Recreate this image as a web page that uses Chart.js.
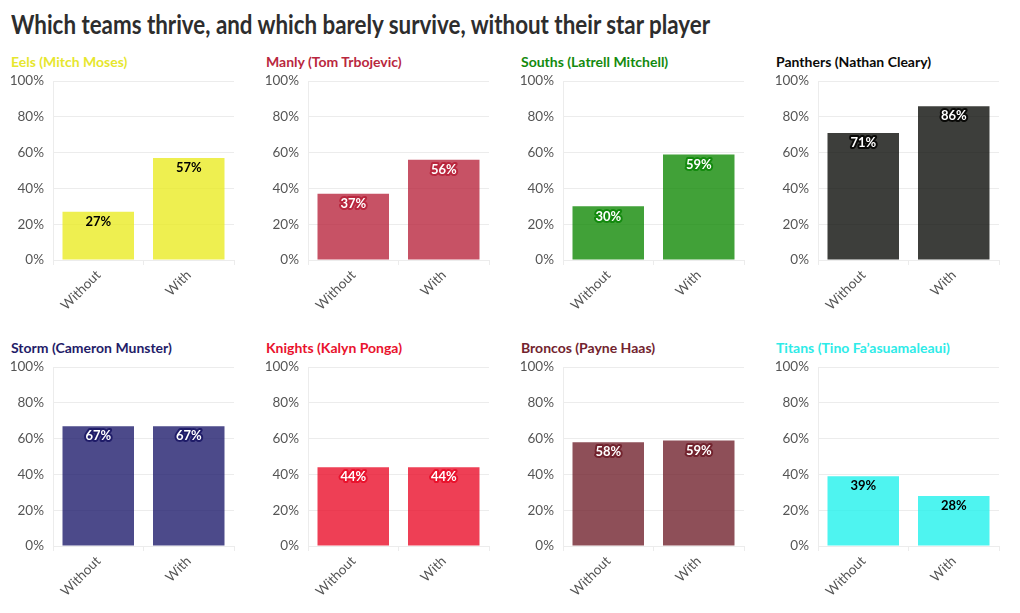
<!DOCTYPE html>
<html>
<head>
<meta charset="utf-8">
<script src="https://cdn.jsdelivr.net/npm/chart.js@4.4.0/dist/chart.umd.min.js"></script>
<style>
  html, body { margin: 0; padding: 0; background: #fff; }
  body { width: 1020px; height: 613px; position: relative; overflow: hidden; font-family: Lato, "Noto Sans", sans-serif; }
  #title { position: absolute; left: 11px; top: 7px; font-size: 27px; font-weight: 700; color: #2d2d2d; white-space: nowrap; transform-origin: 0 0; }
  .ptitle { position: absolute; font-size: 14px; font-weight: 700; white-space: nowrap; transform-origin: 0 0; }
  .box { position: absolute; width: 250px; height: 247px; }
</style>
</head>
<body>
<div id="title">Which teams thrive, and which barely survive, without their star player</div>
<script>
// ---- data ----
const categories = ["Without", "With"];
const teams = ["Eels (Mitch Moses)", "Manly (Tom Trbojevic)", "Souths (Latrell Mitchell)", "Panthers (Nathan Cleary)",
               "Storm (Cameron Munster)", "Knights (Kalyn Ponga)", "Broncos (Payne Haas)", "Titans (Tino Fa\u2019asuamaleaui)"];
const eels = [27, 57];
const manly = [37, 56];
const souths = [30, 59];
const panthers = [71, 86];
const storm = [67, 67];
const knights = [44, 44];
const broncos = [58, 59];
const titans = [39, 28];
const yTicks = [0, 20, 40, 60, 80, 100];

const seriesList = [eels, manly, souths, panthers, storm, knights, broncos, titans];
const teamColors = ["#E6E62E", "#B9273E", "#138A0E", "#0A0A08", "#1F1C68", "#E9122D", "#72232E", "#2EEBE8"];
const barColors = ["rgba(234,235,36,0.8)", "rgba(185,39,62,0.8)", "rgba(11,134,0,0.78)", "rgba(9,10,6,0.79)",
                   "rgba(31,29,109,0.8)", "rgba(234,15,42,0.8)", "rgba(114,35,46,0.8)", "rgba(34,241,236,0.8)"];
const darkLabel = [true, false, false, false, false, false, false, true];

// fit main title to the reference width (condensed look)
const titleEl = document.getElementById('title');
const tw = titleEl.getBoundingClientRect().width;
titleEl.style.transform = 'scaleX(' + (699 / tw) + ')';

const labelPlugin = {
  id: 'barLabels',
  afterDatasetsDraw(chart, args, opts) {
    const ctx = chart.ctx;
    const meta = chart.getDatasetMeta(0);
    const data = chart.data.datasets[0].data;
    ctx.save();
    ctx.font = "bold 13px Lato, 'Noto Sans', sans-serif";
    ctx.textAlign = 'center';
    ctx.textBaseline = 'middle';
    ctx.lineJoin = 'round';
    meta.data.forEach((bar, i) => {
      const txt = data[i] + '%';
      const x = bar.x, y = bar.y + 10;
      if (opts.dark) {
        ctx.fillStyle = '#000';
        ctx.fillText(txt, x, y);
      } else {
        ctx.strokeStyle = opts.halo;
        ctx.lineWidth = 4;
        ctx.strokeText(txt, x, y);
        ctx.fillStyle = '#fff';
        ctx.fillText(txt, x, y);
      }
    });
    ctx.restore();
  }
};

Chart.defaults.font.family = "Lato, 'Noto Sans', sans-serif";
Chart.defaults.font.size = 13;

for (let k = 0; k < 8; k++) {
  const col = k % 4, row = Math.floor(k / 4);
  const t = document.createElement('div');
  t.className = 'ptitle';
  t.style.left = (col * 255 + 11) + 'px';
  t.style.top = (row * 286 + 53) + 'px';
  t.style.color = teamColors[k];
  t.textContent = teams[k];
  document.body.appendChild(t);

  const box = document.createElement('div');
  box.className = 'box';
  box.style.left = (col * 255) + 'px';
  box.style.top = (row * 286 + 64) + 'px';
  const cv = document.createElement('canvas');
  box.appendChild(cv);
  document.body.appendChild(box);

  new Chart(cv, {
    type: 'bar',
    data: {
      labels: categories,
      datasets: [{
        data: seriesList[k],
        backgroundColor: barColors[k],
        borderWidth: 0,
        barPercentage: 0.79,
        categoryPercentage: 1.0
      }]
    },
    options: {
      responsive: true,
      maintainAspectRatio: false,
      animation: false,
      layout: { padding: { top: 4, right: 16, left: 0, bottom: 0 } },
      plugins: {
        legend: { display: false },
        tooltip: { enabled: false },
        barLabels: { dark: darkLabel[k], halo: teamColors[k] }
      },
      scales: {
        y: {
          min: 0, max: 100,
          afterBuildTicks(scale) { scale.ticks = yTicks.map(v => ({ value: v })); },
          afterFit(scale) { scale.width = 53; },
          ticks: { callback: v => v + '%', color: '#555', padding: 9, font: { size: 13.5 } },
          grid: { color: '#ececec', tickLength: 0, lineWidth: 1 },
          border: { color: '#ececec' }
        },
        x: {
          afterFit(scale) { scale.height = 51; },
          ticks: { minRotation: 45, maxRotation: 45, color: '#555', padding: 2, font: { size: 13.5 } },
          grid: { drawOnChartArea: false, color: '#ececec', tickLength: 5 },
          border: { display: false }
        }
      }
    },
    plugins: [labelPlugin]
  });
}
</script>
</body>
</html>
